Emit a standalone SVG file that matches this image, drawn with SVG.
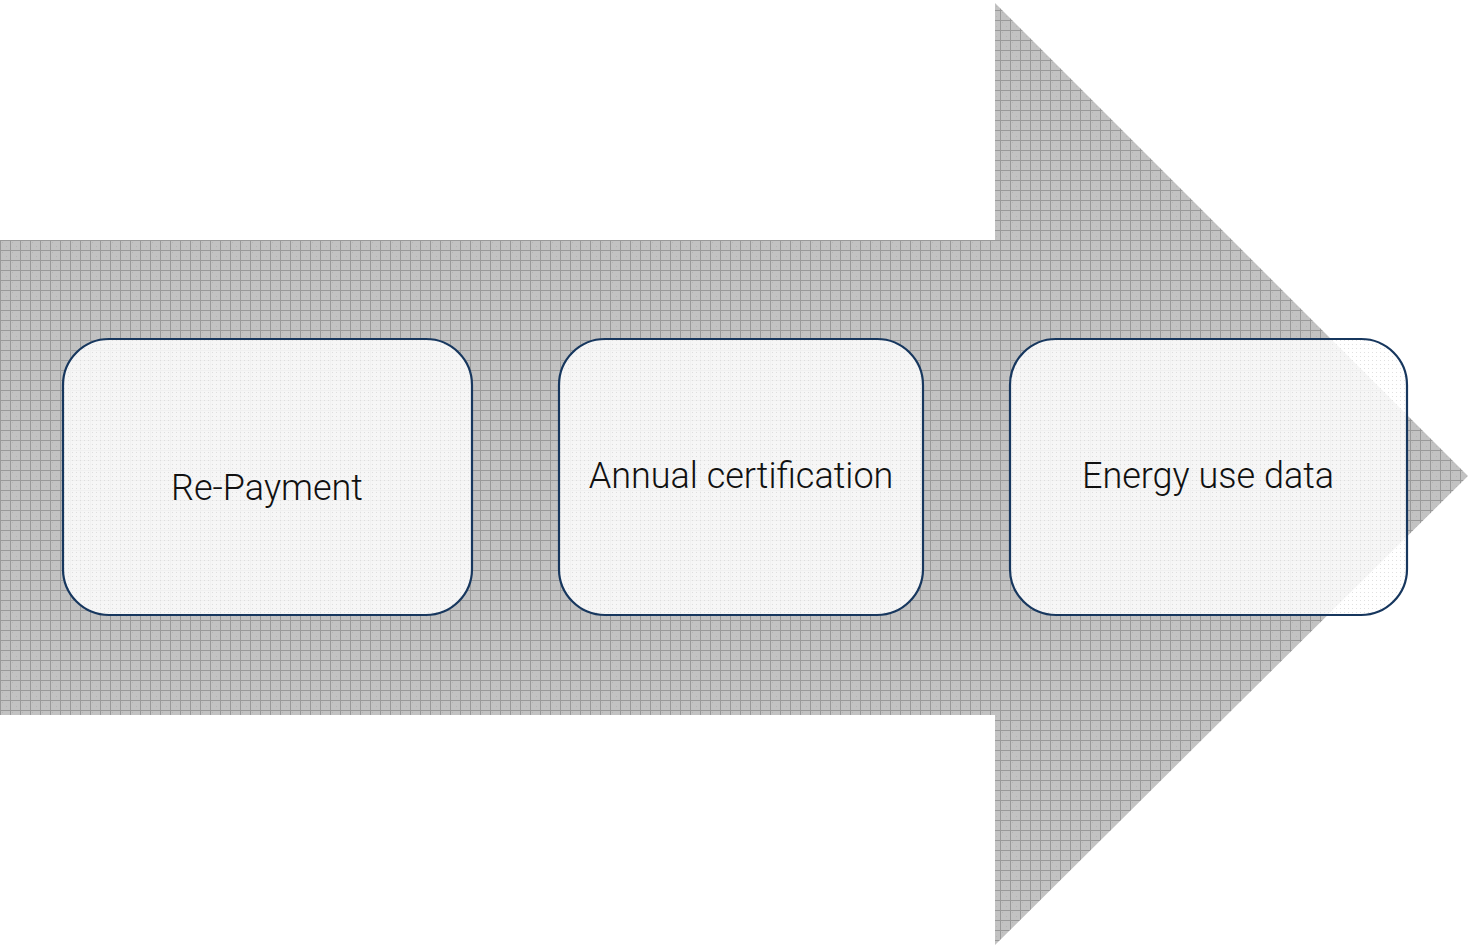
<svg xmlns="http://www.w3.org/2000/svg" width="1470" height="948" viewBox="0 0 1470 948">
<defs>
<pattern id="grid" width="10" height="10" patternUnits="userSpaceOnUse" x="0" y="0">
<rect width="10" height="10" fill="#c2c2c2"/>
<rect x="2" y="2" width="1" height="1" fill="#b4b4b4"/>
<rect x="6" y="6" width="1" height="1" fill="#b4b4b4"/>
<path d="M0 0.5H10M0.5 0V10" stroke="#999" stroke-width="1"/>
</pattern>
<pattern id="dots" width="4" height="4" patternUnits="userSpaceOnUse">
<rect width="4" height="4" fill="#ffffff" fill-opacity="0.86"/>
<rect x="0" y="0" width="1" height="1" fill="#d8d8d8" fill-opacity="0.8"/>
</pattern>
</defs>
<style>
.box{fill:url(#dots);stroke:#17375e;stroke-width:2.2}
.lbl{font-family:Roboto,"Liberation Sans",Arial,sans-serif;font-weight:300;font-size:36px;fill:#111;text-anchor:middle}
</style>
<g id="arrow">
<polygon points="0,240 995,240 995,3 1468,476 995,945 995,715 0,715" fill="url(#grid)"/>
</g>
<g id="node1">
<rect class="box" x="63" y="339" width="409" height="276" rx="46"/>
<text class="lbl" x="267" y="500">Re-Payment</text>
</g>
<g id="node2">
<rect class="box" x="559" y="339" width="364" height="276" rx="46"/>
<text class="lbl" x="741" y="488">Annual certification</text>
</g>
<g id="node3">
<rect class="box" x="1010" y="339" width="397" height="276" rx="46"/>
<text class="lbl" x="1208" y="488">Energy use data</text>
</g>
<g id="connectors"></g>
</svg>
